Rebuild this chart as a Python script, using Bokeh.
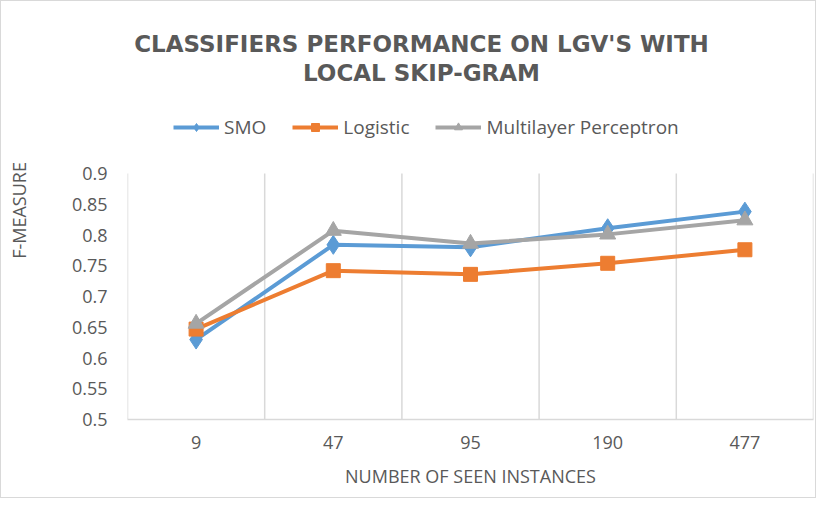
from bokeh.plotting import figure
from bokeh.models import FixedTicker, Legend, LegendItem, Range1d, Label
from bokeh.embed import file_html
from bokeh.resources import INLINE

categories = ["9", "47", "95", "190", "477"]
smo = [0.630, 0.784, 0.780, 0.811, 0.838]
logistic = [0.647, 0.742, 0.736, 0.754, 0.776]
mlp = [0.656, 0.807, 0.786, 0.801, 0.824]
y_ticks = [0.5, 0.55, 0.6, 0.65, 0.7, 0.75, 0.8, 0.85, 0.9]
y_tick_labels = ["0.5", "0.55", "0.6", "0.65", "0.7", "0.75", "0.8", "0.85", "0.9"]
title_lines = ["CLASSIFIERS PERFORMANCE ON LGV'S WITH", "LOCAL SKIP-GRAM"]

x = [i + 0.5 for i in range(len(categories))]
y_min, y_max = y_ticks[0], y_ticks[-1]

TEXT = "#595959"
GRID = "#d9d9d9"
FONT = "Open Sans"

# plot area 0.5..0.9 spans 246 px; frame extended upward to hold title and legend
px_per_unit = 246 / (y_max - y_min)
extra_top = 172 / px_per_unit

p = figure(width=816, height=498,
           x_range=Range1d(0, len(categories)), y_range=Range1d(y_min, y_max + extra_top),
           output_backend="svg", toolbar_location=None,
           min_border_left=126, min_border_right=4,
           min_border_top=0, min_border_bottom=80)
p.styles = {"border": "1px solid #d9d9d9", "box-sizing": "border-box"}
p.outline_line_color = None
p.background_fill_color = "white"
p.border_fill_color = "white"
p.xgrid.grid_line_color = None
p.ygrid.grid_line_color = None

for i, t in enumerate(title_lines):
    p.add_layout(Label(x=294, y=376 - 29 * i, x_units="screen", y_units="screen",
                       text=t, text_align="center", text_baseline="middle",
                       text_font="DejaVu Sans", text_font_size="23px",
                       text_font_style="bold", text_color=TEXT))

# vertical category separators (grid) between y_min and y_max
bounds = list(range(len(categories) + 1))
p.segment(x0=bounds, y0=[y_min] * len(bounds), x1=bounds, y1=[y_max] * len(bounds),
          line_color=GRID, line_width=1.5)

# x axis
p.xaxis.ticker = FixedTicker(ticks=x)
p.xaxis.major_label_overrides = {xx: c for xx, c in zip(x, categories)}
p.xaxis.axis_line_color = GRID
p.xaxis.axis_line_width = 1.5
p.xaxis.major_tick_line_color = None
p.xaxis.minor_tick_line_color = None
p.xaxis.major_label_text_font = FONT
p.xaxis.major_label_text_font_size = "18px"
p.xaxis.major_label_text_color = TEXT
p.xaxis.major_label_standoff = 10
p.xaxis.axis_label = "NUMBER OF SEEN INSTANCES"
p.xaxis.axis_label_text_font = FONT
p.xaxis.axis_label_text_font_size = "18px"
p.xaxis.axis_label_text_font_style = "normal"
p.xaxis.axis_label_text_color = TEXT
p.xaxis.axis_label_standoff = 12

# y axis
p.yaxis.ticker = FixedTicker(ticks=y_ticks)
p.yaxis.major_label_overrides = {t: l for t, l in zip(y_ticks, y_tick_labels)}
p.yaxis.axis_line_color = None
p.yaxis.major_tick_line_color = None
p.yaxis.minor_tick_line_color = None
p.yaxis.major_label_text_font = FONT
p.yaxis.major_label_text_font_size = "18px"
p.yaxis.major_label_text_color = TEXT
p.yaxis.major_label_standoff = 14
p.yaxis.axis_label = "F-MEASURE"
p.yaxis.axis_label_text_font = FONT
p.yaxis.axis_label_text_font_size = "18px"
p.yaxis.axis_label_text_font_style = "normal"
p.yaxis.axis_label_text_color = TEXT
p.yaxis.axis_label_standoff = 38

series = [
    ("SMO", smo, "#5B9BD5", "diamond", 19),
    ("Logistic", logistic, "#ED7D31", "square", 14),
    ("Multilayer Perceptron", mlp, "#A5A5A5", "triangle", 16),
]
items = []
for name, vals, col, marker, size in series:
    ln = p.line(x, vals, line_color=col, line_width=4)
    sc = p.scatter(x, vals, marker=marker, size=size, fill_color=col, line_color=col)
    items.append(LegendItem(label=name, renderers=[ln, sc]))

legend = Legend(items=items, orientation="horizontal", location=(46, 279),
                label_text_font=FONT, label_text_font_size="19px",
                label_text_color=TEXT, glyph_width=46, label_standoff=5,
                spacing=26, border_line_color=None, background_fill_alpha=0,
                padding=0, margin=0)
p.add_layout(legend)

open("out.html", "w").write(file_html(p, INLINE))
